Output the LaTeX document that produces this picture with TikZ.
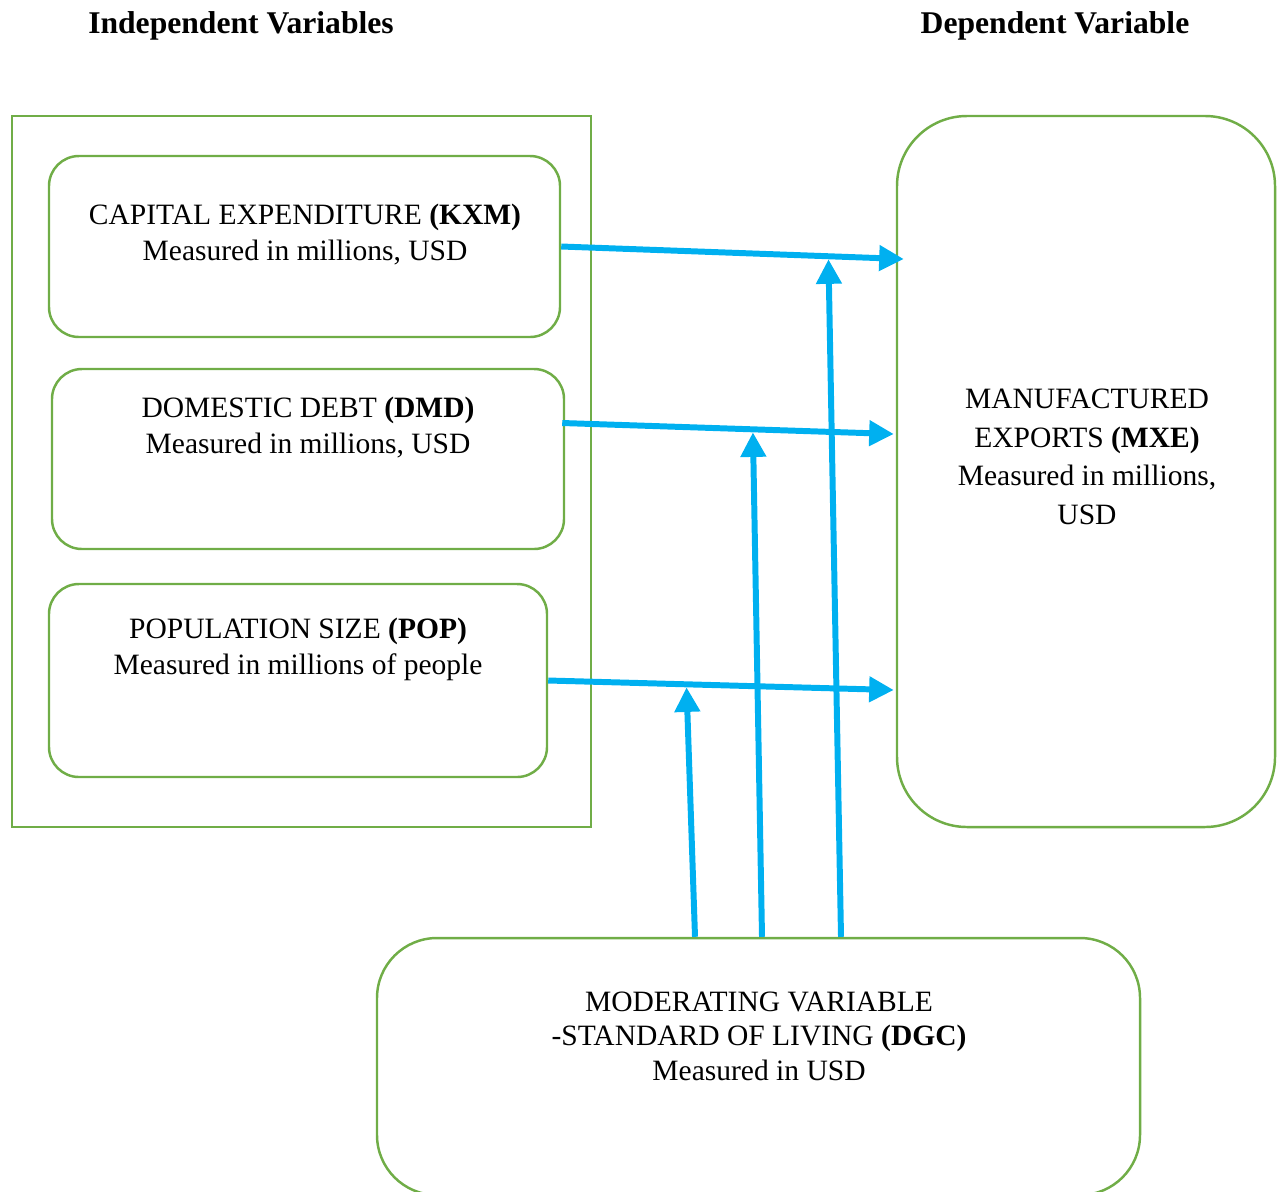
\documentclass[tikz,border=0pt]{standalone}
\usepackage{fontspec}
\setmainfont{Liberation Serif}
\usetikzlibrary{arrows.meta,positioning,fit,calc}
\definecolor{boxgreen}{RGB}{112,173,71}
\definecolor{flowblue}{RGB}{0,176,240}

\begin{document}
\begin{tikzpicture}[x=0.02cm,y=-0.02cm,
 box/.style={draw=boxgreen,line width=1.4pt,rounded corners=0.6cm,inner sep=0pt},
 txt/.style={align=center,inner sep=0pt,font=\fontsize{16.8}{20.5}\selectfont},
 hd/.style={inner sep=0pt,font=\fontsize{18}{21}\selectfont\bfseries},
 a/.style={-{Triangle[length=14pt,width=14pt]},draw=flowblue,line width=3.4pt}]
\useasboundingbox (0,0) rectangle (1283,1191);
\clip (0,0) rectangle (1283,1191);
\node[hd] (ivh) at (241,26) {Independent Variables};
\node[hd] (dvh) at (1055,26) {Dependent Variable};
\node[box,sharp corners,fit={(12,116)(591,827)}] (indep) {};
\node[box,fit={(49,156)(560,337)}] (kxm) {};
\node[box,fit={(52,369)(564,549)}] (dmd) {};
\node[box,fit={(49,584)(547,777)}] (pop) {};
\node[box,rounded corners=1.4cm,fit={(897,116)(1275,827)}] (mxe) {};
\node[box,rounded corners=1.2cm,fit={(377,938)(1140,1195)}] (dgc) {};
\node[txt] (kxmt) at (305,235) {CAPITAL EXPENDITURE \textbf{(KXM)}\\Measured in millions, USD};
\node[txt] (dmdt) at (308,428) {DOMESTIC DEBT \textbf{(DMD)}\\Measured in millions, USD};
\node[txt] (popt) at (298,649) {POPULATION SIZE \textbf{(POP)}\\Measured in millions of people};
\node[txt,font=\fontsize{16.8}{22}\selectfont] (mxet) at (1087,457) {MANUFACTURED\\EXPORTS \textbf{(MXE)}\\Measured in millions,\\USD};
\node[txt,font=\fontsize{16.8}{19.6}\selectfont] (dgct) at (759,1036) {MODERATING VARIABLE\\-STANDARD OF LIVING \textbf{(DGC)}\\Measured in USD};
\draw[a] (kxm.east) -- coordinate[pos=0.78] (k1) ($(kxm.east -| mxe.west)+(8,12.5)$);
\draw[a] ($(dmd.east)+(-3,-36)$) -- coordinate[pos=0.575] (d1) ($(dmd.east -| mxe.west)+(-2,-25)$);
\draw[a] (pop.east) -- coordinate[pos=0.40] (p1) ($(pop.east -| mxe.west)+(-2,9.5)$);
\draw[a,shorten >=1.7pt] ($(dgc.north)+(82.5,0)$) -- (k1);
\draw[a,shorten >=1.7pt] ($(dgc.north)+(3.5,0)$) -- (d1);
\draw[a,shorten >=1.7pt] ($(dgc.north)+(-63.5,0)$) -- (p1);
\end{tikzpicture}
\end{document}
